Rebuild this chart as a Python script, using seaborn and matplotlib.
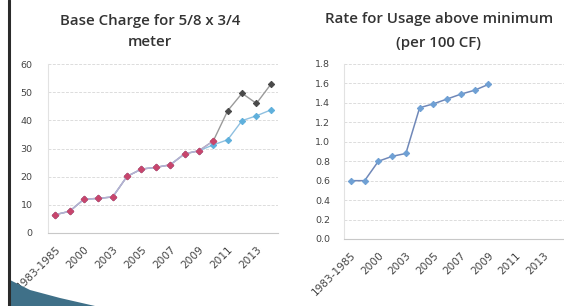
import numpy as np, pandas as pd, matplotlib, matplotlib.pyplot as plt
import seaborn as sns
from matplotlib.patches import Polygon

sns.set_theme(style='white')
matplotlib.rcParams['font.family'] = ['DejaVu Sans']

YEARS = ['1983-1985', '1990', '2000', '2002', '2003', '2004', '2005', '2006',
         '2007', '2008', '2009', '2010', '2011', '2012', '2013', '2014']

# base charge, 5/8 x 3/4 meter ($)
base_actual = [6.5, 7.7, 12.0, 12.3, 12.8, 20.1, 22.7, 23.3, 24.2, 28.1, 29.2, 32.7]
base_high   = [6.5, 7.7, 12.0, 12.3, 12.8, 20.1, 22.7, 23.3, 24.2, 28.1, 29.2, 32.7,
               43.4, 49.6, 46.0, 52.8]
base_low    = [6.5, 7.7, 12.0, 12.3, 12.8, 20.1, 22.7, 23.3, 24.2, 28.1, 29.2, 31.3,
               33.1, 39.9, 41.6, 43.7]

# usage rate per 100 CF ($)
usage_rate  = [0.60, 0.60, 0.80, 0.85, 0.88, 1.35, 1.39, 1.44, 1.49, 1.53, 1.59]

TXT  = '#444444'
GRID = '#dcdcdc'

fig = plt.figure(figsize=(5.64, 3.06), dpi=100)
fig.patch.set_facecolor('white')
W, H = 564, 306
axL = fig.add_axes([48 / W, 1 - 233 / H, 230 / W, 169 / H])
axR = fig.add_axes([344 / W, 1 - 239 / H, 220 / W, 175 / H])


def style(ax, ylim, yticks, fmt, ypad):
    ax.set_xlim(-0.5, 15.5)
    ax.set_ylim(*ylim)
    ax.set_yticks(yticks)
    ax.set_yticklabels([fmt.format(v) for v in yticks], fontsize=6.8, color=TXT)
    ax.set_xticks(range(len(YEARS)))
    ax.set_xticklabels([y if i % 2 == 0 else '' for i, y in enumerate(YEARS)],
                       rotation=45, ha='right', rotation_mode='anchor',
                       fontsize=7.6, color=TXT)
    ax.tick_params(axis='x', length=0, pad=8)
    ax.tick_params(axis='y', length=0, pad=ypad)
    for y in yticks[1:]:
        ax.axhline(y, color=GRID, lw=0.7, ls=(0, (3, 1.5)), zorder=0)
    for s in ['top', 'right']:
        ax.spines[s].set_visible(False)
    ax.spines['left'].set_color('#e2e2e2')
    ax.spines['bottom'].set_color('#c8c8c8')
    ax.spines['left'].set_linewidth(0.8)
    ax.spines['bottom'].set_linewidth(0.8)
    ax.set_xlabel(''); ax.set_ylabel('')
    ax.set_facecolor('none')


# left chart
sns.lineplot(x=np.arange(len(base_high)), y=base_high, ax=axL, color='#9a9a9a', lw=1.0,
             marker='D', markersize=3.2, markerfacecolor='#4a4a4a', markeredgecolor='#4a4a4a')
sns.lineplot(x=np.arange(len(base_low)), y=base_low, ax=axL, color='#8fc0e0', lw=1.0,
             marker='D', markersize=3.2, markerfacecolor='#5fb0dc', markeredgecolor='#5fb0dc')
sns.lineplot(x=np.arange(len(base_actual)), y=base_actual, ax=axL, color='#b8aed0', lw=1.0,
             marker='D', markersize=3.4, markerfacecolor='#c8456c', markeredgecolor='#c8456c')
style(axL, (0, 60), [0, 10, 20, 30, 40, 50, 60], '{:.0f}', 11)

# right chart
sns.lineplot(x=np.arange(len(usage_rate)), y=usage_rate, ax=axR, color='#7088b8', lw=1.1,
             marker='D', markersize=3.2, markerfacecolor='#6fa0d4', markeredgecolor='#6fa0d4')
style(axR, (0, 1.8), [0.0, 0.2, 0.4, 0.6, 0.8, 1.0, 1.2, 1.4, 1.6, 1.8], '{:.1f}', 10)

# titles (placed as in the slide, not centred on the axes)
tkw = dict(ha='center', va='center', fontsize=10.8, color='#333333',
           family=['Open Sans', 'DejaVu Sans'], fontweight='semibold')
fig.text(150 / W, 1 - 21 / H, 'Base Charge for 5/8 x 3/4', **tkw)
fig.text(150 / W, 1 - 42 / H, 'meter', **tkw)
fig.text(439 / W, 1 - 19 / H, 'Rate for Usage above minimum', **tkw)
fig.text(439 / W, 1 - 43 / H, '(per 100 CF)', **tkw)

# slide decoration: left border and teal swoosh
fig.add_artist(plt.Line2D([9 / W, 9 / W], [0, 1], transform=fig.transFigure,
                          color='#2b2b2b', lw=2.2))
fig.add_artist(Polygon([(10 / W, 0), (10 / W, 26 / H), (30 / W, 16 / H), (60 / W, 8 / H),
                        (95 / W, 0)], closed=True, transform=fig.transFigure,
                       facecolor='#3f7088', edgecolor='none'))

plt.savefig('out.png', dpi=100)
